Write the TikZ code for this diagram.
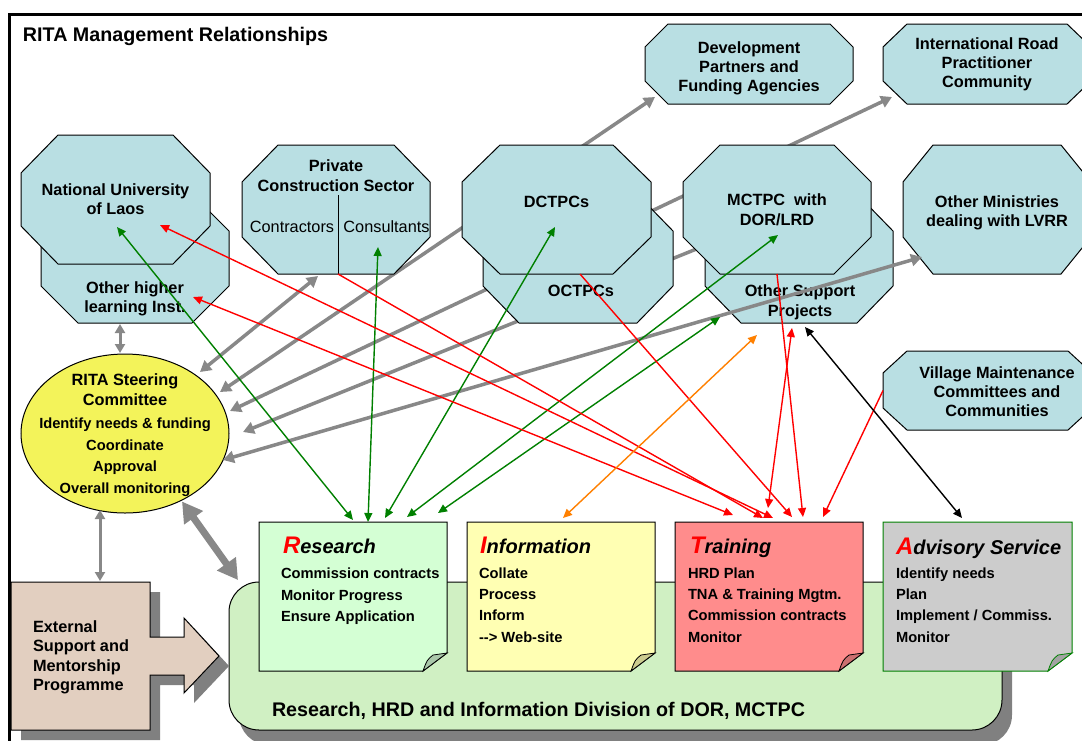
\documentclass[tikz,border=0pt]{standalone}
\usepackage{fontspec}
\setmainfont{Liberation Sans}
\usetikzlibrary{arrows.meta,calc,shapes.geometric}

\definecolor{octblue}{RGB}{185,223,227}
\definecolor{elyellow}{RGB}{243,243,90}
\definecolor{exttan}{RGB}{226,207,192}
\definecolor{divgreen}{RGB}{208,240,195}
\definecolor{resgreen}{RGB}{212,255,212}
\definecolor{resfold}{RGB}{170,200,170}
\definecolor{infyellow}{RGB}{255,255,179}
\definecolor{inffold}{RGB}{204,204,143}
\definecolor{trnpink}{RGB}{255,140,140}
\definecolor{trnfold}{RGB}{204,112,112}
\definecolor{advgray}{RGB}{204,204,204}
\definecolor{advfold}{RGB}{163,163,163}
\definecolor{arrgray}{RGB}{136,136,136}
\definecolor{shadowgray}{RGB}{128,128,128}
\definecolor{lgreen}{RGB}{0,128,0}
\definecolor{orangeline}{RGB}{255,128,0}

\newcommand\fOct{\fontsize{16.3}{19.5}\selectfont\bfseries}
\newcommand\fOctR{\fontsize{16.3}{19.5}\selectfont}
\newcommand\fOctB{\fontsize{16.3}{19}\selectfont\bfseries}
\newcommand\fItem{\fontsize{14.7}{21.4}\selectfont\bfseries}
\newcommand\fTitle{\fontsize{19.7}{24}\selectfont\bfseries}
\newcommand\fHead{\fontsize{20}{24}\selectfont\bfseries\itshape}
\newcommand\fInit{\fontsize{24}{24}\selectfont\bfseries\itshape\color{red}}

% cx cy w h ch cv
\newcommand\octshape[6]{%
 \path[octf] ({#1-#3/2+#5},{#2-#4/2}) -- ({#1+#3/2-#5},{#2-#4/2}) -- ({#1+#3/2},{#2-#4/2+#6}) -- ({#1+#3/2},{#2+#4/2-#6}) -- ({#1+#3/2-#5},{#2+#4/2}) -- ({#1-#3/2+#5},{#2+#4/2}) -- ({#1-#3/2},{#2+#4/2-#6}) -- ({#1-#3/2},{#2-#4/2+#6}) -- cycle;}
% x1 y1 x2 y2 fill fold border
\newcommand\notepoly[7]{%
 \path[fill=#5, draw=#7, line width=1pt] (#1,#2) -- (#3,#2) -- (#3,{#4-18}) -- ({#3-24},#4) -- (#1,#4) -- cycle;
 \path[fill=#6, draw=#7, line width=0.8pt] (#3,{#4-18}) -- ({#3-14},{#4-16}) .. controls ({#3-20},{#4-11}) .. ({#3-24},#4) -- cycle;}

\tikzset{
 ph/.style={inner sep=0pt, outer sep=0pt, draw=none, fill=none},
 octf/.style={fill=octblue, draw=black, line width=1pt},
 txt/.style={inner sep=0pt, outer sep=0pt, align=center},
 cline/.style={line width=1.4pt},
 tdbl/.style={cline, arrows={Triangle[length=9pt,width=8pt]-Triangle[length=9pt,width=8pt]}},
 tsgl/.style={cline, arrows={-Triangle[length=9pt,width=8pt]}},
 gline/.style={draw=arrgray, line width=3.5pt},
 gdbl/.style={gline, arrows={Triangle[length=11pt,width=12pt]-Triangle[length=11pt,width=12pt]}},
 gfirst/.style={gline, arrows={Triangle[length=11pt,width=12pt]-}},
 gvert/.style={draw=arrgray, line width=3pt, arrows={Triangle[length=9pt,width=10pt]-Triangle[length=9pt,width=10pt]}},
 gbig/.style={draw=arrgray, line width=7pt, arrows={Triangle[length=20pt,width=22pt]-Triangle[length=20pt,width=22pt]}},
}

\begin{document}
\begin{tikzpicture}[x=1pt,y=-1pt]
\useasboundingbox (0,0) rectangle (1082,740);
\fill[white] (0,0) rectangle (1082,740);
\draw[line width=3pt] (9,14) rectangle (1100,760);

% ---- named placeholder nodes ----
\node[ph, minimum width=189, minimum height=129] (nul) at (115.5,199.5) {};
\node[ph, minimum width=188, minimum height=129] (ohl) at (135,258.5) {};
\node[ph, minimum width=188, minimum height=129] (pcs) at (336,209.5) {};
\node[ph, minimum width=189, minimum height=129] (dct) at (556.5,209.5) {};
\node[ph, minimum width=190, minimum height=129] (oct) at (578,258.5) {};
\node[ph, minimum width=188, minimum height=129] (mct) at (777,209.5) {};
\node[ph, minimum width=188, minimum height=129] (osp) at (799,258.5) {};
\node[ph, minimum width=188, minimum height=129] (omi) at (997,209.5) {};
\node[ph, minimum width=208, minimum height=80] (dev) at (749,64) {};
\node[ph, minimum width=208, minimum height=80] (irp) at (987,64) {};
\node[ph, minimum width=209, minimum height=79] (vmc) at (987.5,390.5) {};
\node[ph, ellipse, minimum width=208, minimum height=159] (rsc) at (125,433.5) {};
\node[ph, minimum width=139, minimum height=148] (ext) at (80.5,656) {};
\node[ph, minimum width=773, minimum height=148] (div) at (615.5,656) {};
\node[ph, minimum width=188, minimum height=149] (res) at (353,596.5) {};
\node[ph, minimum width=188, minimum height=149] (inf) at (561,596.5) {};
\node[ph, minimum width=188, minimum height=149] (trn) at (769,596.5) {};
\node[ph, minimum width=189, minimum height=149] (adv) at (977.5,596.5) {};

% ---- grey links passing behind the octagons ----
\draw[gdbl] ($(dev)+(-94,33)$) -- ($(rsc)+(95,-41.5)$);
\draw[gdbl] ($(irp)+(-95,33)$) -- ($(rsc)+(105,-22.5)$);
\draw[gfirst] ($(rsc)+(118,-1.5)$) -- ($(mct)+(-57,30)$);

% ---- division box and external programme ----
\fill[shadowgray, rounded corners=30pt] (239,592) rectangle (1012,745);
\draw[fill=divgreen, rounded corners=30pt, line width=1pt] (229,582) rectangle (1002,730);
\fill[shadowgray, shift={(10,10)}] (11,582) -- (150,582) -- (150,637) -- (184,637) -- (184,618) -- (219,656) -- (184,693) -- (184,675) -- (150,675) -- (150,730) -- (11,730) -- cycle;
\draw[fill=exttan, line width=1pt] (11,582) -- (150,582) -- (150,637) -- (184,637) -- (184,618) -- (219,656) -- (184,693) -- (184,675) -- (150,675) -- (150,730) -- (11,730) -- cycle;

% ---- octagons ----
\octshape{135}{258.5}{188}{129}{37}{37}
\octshape{115.5}{199.5}{189}{129}{37}{38}
\octshape{336}{209.5}{188}{129}{36}{37}
\octshape{578}{258.5}{190}{129}{36}{37}
\octshape{556.5}{209.5}{189}{129}{38}{37}
\octshape{799}{258.5}{188}{129}{36}{37}
\octshape{777}{209.5}{188}{129}{37}{37}
\octshape{997}{209.5}{188}{129}{30}{37}
\octshape{749}{64}{208}{80}{23}{23}
\octshape{987}{64}{208}{80}{24}{23}
\octshape{987.5}{390.5}{209}{79}{24}{22}
\draw[line width=1pt] ($(pcs.south)+(2,0)$) -- ($(pcs.south)+(2,-79)$);

% ---- steering committee ----
\draw[fill=elyellow, line width=1pt] (125,433.5) ellipse [x radius=104pt, y radius=79.5pt];

% ---- notes ----
\notepoly{259}{522}{447}{671}{resgreen}{resfold}{black}
\notepoly{467}{522}{655}{671}{infyellow}{inffold}{black}
\notepoly{675}{522}{863}{671}{trnpink}{trnfold}{black}
\notepoly{883}{522}{1072}{671}{advgray}{advfold}{lgreen}

% ---- texts ----
\node[txt, anchor=base west, font=\fTitle] (title) at (23,41) {RITA Management Relationships};
\node[txt, font=\fOct] (nul-t) at (115.5,199) {National University\\of Laos};
\node[txt, font=\fOct] (ohl-t) at (135,299) {Other higher\\learning Inst.};
\node[txt, font=\fOct] (pcs-t) at (336,175.7) {Private\\Construction Sector};
\node[txt, font=\fOctR, anchor=base] (pcs-c1) at (292,232) {Contractors};
\node[txt, font=\fOctR, anchor=base] (pcs-c2) at (386.5,232) {Consultants};
\node[txt, font=\fOct, anchor=base] (dct-t) at (556.5,207) {DCTPCs};
\node[txt, font=\fOct, anchor=base] (oct-t) at (581,296) {OCTPCs};
\node[txt, font=\fOct] (mct-t) at (777,209.6) {MCTPC\ \ with\\DOR/LRD};
\node[txt, font=\fOct] (osp-t) at (800,302.4) {Other Support\\Projects};
\node[txt, font=\fOct] (omi-t) at (997,212.9) {Other Ministries\\dealing with LVRR};
\node[txt, font=\fOctB] (dev-t) at (749,68) {Development\\Partners and\\Funding Agencies};
\node[txt, font=\fOctB] (irp-t) at (987,64) {International Road\\Practitioner\\Community};
\node[txt, font=\fOctB] (vmc-t) at (997,392) {Village Maintenance\\Committees and\\Communities};
\node[txt, font=\fOct] (rsc-t) at (125,389.7) {RITA Steering\\Committee};
\node[txt, font=\fItem] (rsc-i) at (125,457.2) {Identify needs \& funding\\Coordinate\\Approval\\Overall monitoring};
\node[txt, font=\fOct, align=left, anchor=north west] (ext-t) at (33,620.3) {External\\Support and\\Mentorship\\Programme};
\node[txt, anchor=base west, font=\fTitle] (div-t) at (272,716) {Research, HRD and Information Division of DOR, MCTPC};

\node[txt, anchor=base west, font=\fHead] (res-h) at (283,553) {{\fInit R}esearch};
\node[txt, anchor=base west, font=\fHead] (inf-h) at (480,553) {{\fInit I}nformation};
\node[txt, anchor=base west, font=\fHead] (trn-h) at (690,553) {{\fInit T}raining};
\node[txt, anchor=base west, font=\fHead] (adv-h) at (896,554) {{\fInit A}dvisory Service};
\node[txt, font=\fItem, align=left, anchor=north west] (res-i) at (281,568.3) {Commission contracts\\Monitor Progress\\Ensure Application};
\node[txt, font=\fItem, align=left, anchor=north west] (inf-i) at (479,567.4) {Collate\\Process\\Inform\\-\kern0pt-\kern0pt> Web-site};
\node[txt, font=\fItem, align=left, anchor=north west] (trn-i) at (688,567.4) {HRD Plan\\TNA \& Training Mgtm.\\Commission contracts\\Monitor};
\node[txt, font=\fItem, align=left, anchor=north west] (adv-i) at (896,567.4) {Identify needs\\Plan\\Implement / Commiss.\\Monitor};

% ---- grey links in front ----
\draw[gdbl] ($(pcs.south)+(-18,2)$) -- ($(rsc)+(75,-61.5)$);
\draw[gdbl] ($(rsc)+(98,26.5)$) -- ($(omi)+(-75,47.5)$);
\draw[gvert] ($(ohl.south)+(-15,1)$) -- ($(rsc.north)+(-5,-1)$);
\draw[gvert] ($(rsc.south)+(-25,-3)$) -- ($(ext.north)+(19.5,-1)$);
\draw[gbig] ($(rsc)+(57,68)$) -- ($(div.north west)+(9,-2)$);

% ---- research links (green) ----
\draw[tdbl, lgreen] ($(nul)+(1.5,27.5)$) -- ($(res.north)+(0,-2)$);
\draw[tdbl, lgreen] ($(pcs)+(42,37.5)$) -- ($(res.north)+(15,0)$);
\draw[tdbl, lgreen] ($(dct)+(-1.5,17.5)$) -- ($(res.north)+(32,-4)$);
\draw[tdbl, lgreen] ($(mct)+(1,25.5)$) -- ($(res.north)+(54,-5)$);
\draw[tdbl, lgreen] ($(osp)+(-79,58.5)$) -- ($(res.north)+(85,-9)$);

% ---- training links (red) ----
\draw[tdbl, red] ($(ohl)+(58,38.5)$) -- ($(trn.north)+(-36,-7)$);
\draw[tdbl, red] ($(nul)+(44.5,25.5)$) -- ($(trn.north)+(4,-4)$);
\draw[tsgl, red] ($(pcs.south)+(2,0)$) -- ($(trn.north)+(-6,-4)$);
\draw[tsgl, red] ($(dct.south)+(23.5,0)$) -- ($(trn.north)+(23,-5)$);
\draw[tsgl, red] (mct.south) -- ($(trn.north)+(34,-5)$);
\draw[tdbl, red] ($(osp.south)+(-7,5)$) -- ($(trn.north)+(-1,-14)$);
\draw[tsgl, red] (vmc.west) -- ($(trn.north)+(54,-5)$);

% ---- information and advisory links ----
\draw[tdbl, orangeline] ($(inf.north)+(2,-4)$) -- ($(osp.south)+(-42,12)$);
\draw[tdbl, black] ($(osp.south)+(6,4)$) -- ($(adv.north)+(-15.5,-4)$);
\end{tikzpicture}
\end{document}
